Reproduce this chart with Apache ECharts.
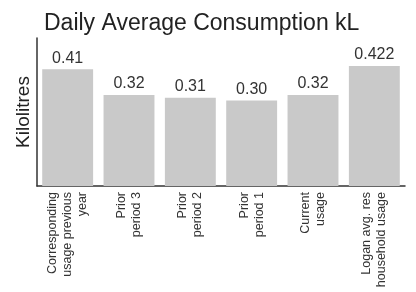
<!DOCTYPE html>
<html>
<head>
<meta charset="utf-8">
<script src="https://cdn.jsdelivr.net/npm/echarts@6/dist/echarts.min.js"></script>
<style>
  html, body { margin: 0; padding: 0; background: #fff; }
  #chart { width: 416px; height: 292px; }
</style>
</head>
<body>
<div id="chart"></div>
<script>
var categories = [
  'Corresponding\nusage previous\nyear',
  'Prior\nperiod 3',
  'Prior\nperiod 2',
  'Prior\nperiod 1',
  'Current\nusage',
  'Logan avg. res\nhousehold usage'
];
var values = [0.41, 0.32, 0.31, 0.30, 0.32, 0.422];
var valueLabels = ['0.41', '0.32', '0.31', '0.30', '0.32', '0.422'];

var chart = echarts.init(document.getElementById('chart'));

var option = {
  backgroundColor: '#ffffff',
  animation: false,
  title: {
    text: 'Daily Average Consumption kL',
    left: 39,
    top: 7,
    textStyle: {
      fontFamily: 'Liberation Sans',
      fontWeight: 'normal',
      fontSize: 23,
      color: '#222'
    }
  },
  grid: { left: 37, right: 11, top: 38, bottom: 106 },
  xAxis: {
    type: 'category',
    data: categories,
    axisLine: { lineStyle: { color: '#333', width: 1.5 } },
    axisTick: { show: false },
    axisLabel: {
      rotate: 90,
      interval: 0,
      fontFamily: 'Liberation Sans',
      fontSize: 12.5,
      lineHeight: 15,
      color: '#333',
      margin: 6
    }
  },
  yAxis: {
    type: 'value',
    min: 0,
    max: 0.52,
    name: 'Kilolitres',
    nameLocation: 'middle',
    nameGap: 4,
    nameTextStyle: {
      fontFamily: 'Liberation Sans',
      fontSize: 19,
      color: '#222'
    },
    axisLine: { show: true, lineStyle: { color: '#333', width: 1.5 } },
    axisTick: { show: false },
    axisLabel: { show: false },
    splitLine: { show: false }
  },
  series: [{
    type: 'bar',
    data: values,
    barCategoryGap: '17%',
    itemStyle: { color: '#c9c9c9' },
    label: {
      show: true,
      position: 'top',
      distance: 3,
      fontFamily: 'Liberation Sans',
      fontSize: 16,
      color: '#333',
      formatter: function (p) { return valueLabels[p.dataIndex]; }
    }
  }]
};

chart.setOption(option);
</script>
</body>
</html>
